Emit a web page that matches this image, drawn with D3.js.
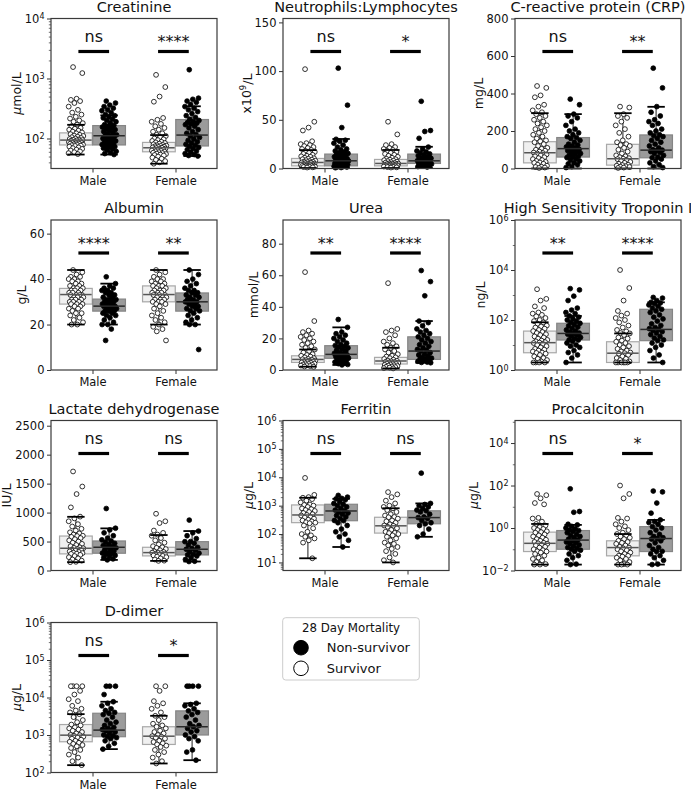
<!DOCTYPE html>
<html><head><meta charset="utf-8">
<script src="https://cdn.jsdelivr.net/npm/d3@7"></script>
<style>body{margin:0;background:#fff} text{font-family:"DejaVu Sans",sans-serif;fill:#111}</style>
</head><body><svg id="c" width="691" height="789"></svg>
<script>
// ---------------- DATA ----------------
const sexes = ["Male", "Female"];
const titles = ["Creatinine","Neutrophils:Lymphocytes","C-reactive protein (CRP)","Albumin","Urea","High Sensitivity Troponin I","Lactate dehydrogenase","Ferritin","Procalcitonin","D-dimer"];
const sigLabels = [["ns","****"],["ns","*"],["ns","**"],["****","**"],["**","****"],["**","****"],["ns","ns"],["ns","ns"],["ns","*"],["ns","*"]];
const legendTitle = "28 Day Mortality";
const legendLabels = ["Non-survivor","Survivor"];

// box stats per group [whiskerLow, q1, median, q3, whiskerHigh]; group order: Male-Surv, Male-Non, Female-Surv, Female-Non
const cr_box = [[54,78,94,124,169],[54,78,111,164,243],[38,60,70,86,114],[51,75,114,207,344]];
const nl_box = [[0.5,2.7,6.2,10.3,18.9],[0.5,2.7,7.9,14.8,30.3],[0.5,2.7,5.2,9.3,19],[0.8,5.2,7.9,14.8,22.3]];
const crp_box = [[0,30,84,143,295],[0,61,106,165,290],[0,18,52,129,295],[0,57,98,179,329]];
const alb_box = [[20,29,33.2,35.9,44],[20,25.9,28.1,31.2,38],[20,30,33.2,37,44],[20,25.9,30,33.9,44]];
const ur_box = [[2.1,4.8,6.7,9,13],[3.2,7.4,9.9,15.4,27],[1,3.8,5.7,8,14.1],[4.6,6.7,12,21,31]];
const tn_box = [[2,4.9,12.4,36,81],[2,15.8,29,74,145],[2,2,4.7,13.5,29],[2,14.9,42,268,510]];
const ld_box = [[144,287,384,595,927],[183,298,401,510,727],[166,252,309,401,612],[155,269,367,498,681]];
const fe_box = [[14,252,470,1060,1900],[35,295,650,1120,1740],[10,108,195,390,810],[80,230,380,660,1200]];
const pc_box = [[0.019,0.078,0.19,0.64,1.55],[0.019,0.1,0.27,0.76,1.4],[0.019,0.049,0.12,0.25,0.52],[0.019,0.078,0.32,1.16,2.4]];
const dd_box = [[157,660,990,1900,3600],[420,900,1350,3800,7700],[174,560,930,1660,3250],[213,1000,1660,4400,7000]];

// individual points
const cr_ms = [1550,1230,460,440,420,390,340,300,270,250,230,215,200,190,180,170,160,150,145,140,135,130,126,122,118,115,112,110,107,105,102,100,98,96,95,94,93,92,90,88,87,86,85,84,83,82,81,80,79,78,77,76,75,73,71,69,67,65,63,61,59,57,55];
const cr_mn = [420,390,360,340,320,300,290,270,250,240,230,220,210,200,190,180,170,165,160,155,150,145,140,135,130,125,120,115,112,110,108,105,100,97,94,91,88,85,83,81,79,77,75,73,71,69,67,64,61,58,56,54];
const cr_fs = [1150,720,500,410,220,205,190,175,160,150,140,130,122,115,110,105,100,97,94,91,88,86,84,82,80,78,77,76,75,74,73,72,71,70,69,68,67,66,65,64,63,62,61,60,59,58,57,56,55,54,53,52,50,48,46,44,42,40,38];
const cr_fn = [1400,470,450,420,400,370,340,320,300,280,260,240,225,210,200,190,185,180,175,170,160,150,140,130,122,116,110,104,98,93,88,84,80,77,74,71,68,65,62,59,56,54,52,51];

const nl_ms = [102,48,42,39,28,26,25,24,23,22,21,20,19,18,17,16,15,14,13,12.5,12,11,10.5,10,9.5,9,8.5,8,7.5,7,6.8,6.5,6.2,6,5.5,5,4.8,4.5,4.2,4,3.8,3.5,3.2,3,2.8,2.6,2.4,2.2,2,1.8,1.5,1.2,1];
const nl_mn = [103,65,42,30,29,28,26,24,22,20,19,18,17,16,15.5,15,14.5,14,13,12,11,10.5,10,9.5,9,8.5,8,7.8,7.5,7,6.5,6,5.5,5,4.5,4,3.5,3,2.8,2.5,2.2,2,1.8,1.5,1,0.8];
const nl_fs = [48,35,25,24,22,21,20,19,18,17,16,15,14,13,12,11,10,9.5,9,8.5,8,7.5,7,6.5,6,5.5,5.2,5,4.8,4.5,4.2,4,3.8,3.5,3.2,3,2.8,2.6,2.4,2.2,2,1.8,1.5,1.2,1];
const nl_fn = [69,39,38,31,22,20,18,17,16,15,14,13,12,11,10.5,10,9.5,9,8.5,8,7.5,7,6.5,6,5.5,5.2,5,4.5,4,3.5,3,2.5,2,1.5];

const crp_ms = [440,430,390,380,340,330,310,300,290,280,270,260,250,240,230,220,210,200,190,180,170,160,150,145,140,130,120,110,105,100,95,90,85,82,80,75,70,65,60,55,50,45,40,35,32,30,25,20,15,10,8,5,3];
const crp_mn = [370,340,290,280,270,250,230,210,200,190,180,170,165,160,150,140,130,125,120,115,110,106,102,98,95,90,85,80,75,70,65,61,58,50,45,40,30,25,20,10,5];
const crp_fs = [330,325,290,280,270,250,230,210,190,170,150,140,130,125,120,110,100,90,80,70,65,60,55,52,50,45,40,35,30,25,20,18,15,12,10,8,5,3];
const crp_fn = [535,430,330,300,280,260,250,240,230,210,200,190,180,175,170,160,150,140,130,120,110,100,98,95,90,85,80,70,60,57,50,40,30,20,10,5];

const alb_ms = [44,43,42,41,41,40,40,39,39,38,38,37,37,36,36,36,35,35,35,34,34,34,33,33,33,33,32,32,32,31,31,31,30,30,30,29,29,29,28,28,27,27,26,25,25,24,23,22,21,20,20];
const alb_mn = [41,38,37,36,36,35,35,34,34,33,33,32,32,31,31,31,30,30,30,29,29,29,28,28,28,28,27,27,27,26,26,26,25,25,24,24,23,22,21,20,20,18,13];
const alb_fs = [44,43,42,41,40,40,39,39,38,38,37,37,37,36,36,35,35,35,34,34,34,33,33,33,33,32,32,32,31,31,31,30,30,30,29,29,28,27,26,25,24,23,22,21,20,19,18,17,13];
const alb_fn = [44,42,40,39,38,37,36,35,35,34,34,33,33,32,32,31,31,30,30,30,29,29,28,28,27,27,26,26,25,24,23,22,21,20,20,9];

const ur_ms = [62,31,25,24,23,22,21,20,19,18,17,16,15,14,13,12,11,10,9.5,9,8.5,8,7.5,7,6.8,6.5,6.2,6,5.8,5.5,5.2,5,4.8,4.5,4.2,4,3.8,3.5,3.2,3,2.8,2.5,2.2,2];
const ur_mn = [32,27,24,23,22,21,20,19,18,17,16,15.5,15,14.5,14,13,12.5,12,11,10.5,10,9.8,9.5,9,8.5,8,7.8,7.5,7,6.5,6,5.5,5,4.5,4,3.5,3.2];
const ur_fs = [55,26,25,24,22,20,18,17,16,15,14,13,12,11,10,9,8.5,8,7.5,7,6.5,6,5.8,5.5,5.2,5,4.8,4.5,4.2,4,3.8,3.5,3.2,3,2.8,2.5,2.2,2,1.8,1.5,1.2,1];
const ur_fn = [63,56,47,31,30,28,26,25,24,23,22,21,20,19,18,17,16,15,14,13,12.5,12,11,10,9.5,9,8,7.5,7,6.8,6.5,6,5.5,5,4.8,4.6];

const tn_ms = [1700,700,600,350,300,200,180,160,140,120,100,90,80,70,60,55,50,45,40,36,33,30,27,25,22,20,18,16,15,14,13,12.5,12,11,10,9,8,7,6.5,6,5.5,5,4.8,4.5,4,3.5,3,2.8,2.5,2.2,2,2,2,2];
const tn_mn = [1800,1600,900,600,300,250,200,180,145,130,110,100,90,80,74,65,58,52,46,40,36,33,30,29,27,25,22,20,18,16,15.8,14,12,10,9,8,6,5,4,3,2];
const tn_fs = [10000,1900,600,230,180,150,120,100,80,60,50,40,35,30,29,25,20,18,15,13.5,12,10,9,8,7,6,5.5,5,4.7,4.5,4,3.5,3,2.8,2.5,2.2,2,2,2,2,2,2];
const tn_fn = [800,750,600,510,480,450,400,350,300,268,230,200,160,130,110,90,70,60,50,45,42,38,34,30,26,22,19,16,14.9,12,10,8,6,4,3,2];

const ld_ms = [1710,1450,1320,1090,930,900,850,800,760,720,690,660,640,620,600,595,580,560,540,520,500,480,460,440,420,400,390,384,370,360,350,340,330,320,310,300,290,287,270,250,230,210,190,170,150,144];
const ld_mn = [1070,730,700,650,600,560,530,510,490,470,450,430,410,401,390,370,350,330,310,300,290,280,260,240,220,200,183];
const ld_fs = [980,850,820,690,650,620,600,560,520,480,450,420,401,390,370,350,330,320,310,309,300,290,280,270,260,252,240,230,210,190,170,166];
const ld_fn = [870,680,650,600,550,500,498,470,440,400,380,367,350,320,300,280,269,250,220,190,160,155];

const fe_ms = [9500,2400,2000,1900,1700,1500,1300,1100,1060,1000,900,800,750,700,650,600,550,500,470,450,400,380,350,320,300,280,260,252,240,200,160,120,100,90,80,70,60,50,14];
const fe_mn = [2300,2000,1800,1740,1600,1400,1200,1120,1000,900,800,700,650,600,550,500,450,400,350,300,295,250,200,150,120,100,80,60,35];
const fe_fs = [3000,2500,2000,1500,1200,1000,900,810,700,600,500,450,400,390,350,300,280,250,220,200,195,180,160,140,120,110,108,100,90,80,70,60,50,45,40,35,30,25,20,15,12,10];
const fe_fn = [14000,1200,1100,1000,900,800,700,660,600,500,400,380,350,300,250,230,200,150,100,80];

const pc_ms = [40,35,25,15,13,3,2.8,2,1.55,1.3,1.1,1,0.9,0.8,0.7,0.64,0.6,0.5,0.45,0.4,0.35,0.3,0.28,0.25,0.22,0.2,0.19,0.18,0.16,0.15,0.13,0.12,0.1,0.09,0.08,0.078,0.07,0.06,0.05,0.04,0.035,0.03,0.025,0.02,0.019,0.019];
const pc_mn = [70,6,5.5,1.5,1.4,1.2,1,0.9,0.8,0.76,0.7,0.6,0.5,0.45,0.4,0.35,0.3,0.27,0.25,0.22,0.2,0.18,0.16,0.14,0.12,0.11,0.1,0.09,0.08,0.06,0.05,0.04,0.03,0.02,0.019];
const pc_fs = [100,40,25,3,2.8,2,1.5,1.2,1,0.8,0.6,0.52,0.45,0.4,0.35,0.3,0.25,0.22,0.2,0.18,0.15,0.13,0.12,0.11,0.1,0.09,0.08,0.07,0.06,0.05,0.049,0.045,0.04,0.035,0.03,0.025,0.02,0.019,0.019,0.019];
const pc_fn = [55,50,15,5,2.4,2,1.8,1.5,1.16,1,0.8,0.6,0.5,0.4,0.35,0.32,0.3,0.25,0.2,0.15,0.12,0.1,0.08,0.078,0.06,0.05,0.04,0.03,0.02,0.019];

const dd_ms = [20000,20000,20000,20000,15000,12000,9000,8000,6000,5000,4500,4000,3600,3000,2500,2200,1900,1800,1600,1500,1400,1300,1200,1100,1000,990,950,900,850,800,750,700,660,620,580,540,500,450,400,350,300,250,200,157];
const dd_mn = [20000,20000,20000,12000,7700,7000,6000,5000,4500,4000,3800,3500,3000,2500,2200,2000,1800,1600,1500,1400,1350,1300,1200,1100,1000,950,900,850,800,700,600,500,420];
const dd_fs = [20000,20000,15000,8000,7000,6000,5000,4000,3250,3000,2500,2000,1800,1660,1500,1300,1200,1100,1000,930,900,850,800,700,650,600,560,520,480,400,350,300,250,200,174];
const dd_fn = [20000,20000,20000,20000,7000,6500,6000,5000,4400,4000,3500,3000,2500,2000,1800,1660,1500,1300,1200,1000,900,800,700,400,350,213];

// axis ranges and ticks
const cr_dom = [31.6, 1e4],  cr_ticks = [1e2, 1e3, 1e4];
const nl_dom = [0, 154],     nl_ticks = [0, 50, 100, 150];
const crp_dom = [0, 800],    crp_ticks = [0, 200, 400, 600, 800];
const alb_dom = [0, 66],     alb_ticks = [0, 20, 40, 60];
const ur_dom = [0, 95],      ur_ticks = [0, 20, 40, 60, 80];
const tn_dom = [1, 1e6],     tn_ticks = [1, 1e2, 1e4, 1e6];
const ld_dom = [0, 2590],    ld_ticks = [0, 500, 1000, 1500, 2000, 2500];
const fe_dom = [5.2, 1e6],   fe_ticks = [1e1, 1e2, 1e3, 1e4, 1e5, 1e6];
const pc_dom = [0.01, 1.15e5], pc_ticks = [1e-2, 1, 1e2, 1e4];
const dd_dom = [1e2, 1e6],   dd_ticks = [1e2, 1e3, 1e4, 1e5, 1e6];

const units = [
  [["µ","i"],["mol/L",""]],
  [["x10",""],["9","sup"],["/L",""]],
  [["mg/L",""]], [["g/L",""]], [["mmol/L",""]], [["ng/L",""]], [["IU/L",""]],
  [["µ","i"],["g/L",""]], [["µ","i"],["g/L",""]], [["µ","i"],["g/L",""]]
];

// ---------------- BUILD ----------------
const panels = [
  {log:true, minor:"sub", dom:cr_dom, ticks:cr_ticks, box:cr_box, pts:[cr_ms,cr_mn,cr_fs,cr_fn]},
  {log:false, dom:nl_dom, ticks:nl_ticks, box:nl_box, pts:[nl_ms,nl_mn,nl_fs,nl_fn]},
  {log:false, dom:crp_dom, ticks:crp_ticks, box:crp_box, pts:[crp_ms,crp_mn,crp_fs,crp_fn]},
  {log:false, dom:alb_dom, ticks:alb_ticks, box:alb_box, pts:[alb_ms,alb_mn,alb_fs,alb_fn]},
  {log:false, dom:ur_dom, ticks:ur_ticks, box:ur_box, pts:[ur_ms,ur_mn,ur_fs,ur_fn]},
  {log:true, minor:"decade", dom:tn_dom, ticks:tn_ticks, box:tn_box, pts:[tn_ms,tn_mn,tn_fs,tn_fn]},
  {log:false, dom:ld_dom, ticks:ld_ticks, box:ld_box, pts:[ld_ms,ld_mn,ld_fs,ld_fn]},
  {log:true, minor:"sub", dom:fe_dom, ticks:fe_ticks, box:fe_box, pts:[fe_ms,fe_mn,fe_fs,fe_fn]},
  {log:true, minor:"decade", dom:pc_dom, ticks:pc_ticks, box:pc_box, pts:[pc_ms,pc_mn,pc_fs,pc_fn]},
  {log:true, minor:"sub", dom:dd_dom, ticks:dd_ticks, box:dd_box, pts:[dd_ms,dd_mn,dd_fs,dd_fn]}
];

const svg = d3.select("#c");
const colX = [51, 283, 515], rowY = [18.5, 220, 420.5, 622.5];
const W = 166, H = 150;
const TICKFS = 11.5;
const hueOff = [-0.2, 0.2];
const boxHalf = 0.197, capHalf = 0.105, jit = 0.09;
const boxFill = ["#f0f0f0", "#9b9b9b"], boxStroke = ["#a8a8a8", "#858585"], medCol = ["#555", "#2a2a2a"];
const barSpan = [[-0.17, 0.2], [-0.21, 0.16]];

function supFmt(sel, d) {
  const e = Math.round(Math.log10(d));
  sel.text(null);
  sel.append("tspan").text("10");
  sel.append("tspan").attr("dy", "-0.45em").attr("font-size", "8px").text(e < 0 ? "\u2212" + (-e) : String(e));
}

panels.forEach((p, i) => {
  const left = colX[i % 3], top = rowY[Math.floor(i / 3)];
  const x = d3.scaleLinear().domain([-0.5, 1.5]).range([left, left + W]);
  const y = (p.log ? d3.scaleLog() : d3.scaleLinear()).domain(p.dom).range([top + H, top]);
  const g = svg.append("g");

  // boxes
  [0, 1].forEach(c => [0, 1].forEach(h => {
    const b = p.box[c * 2 + h];
    const cx = c + hueOff[h];
    g.append("rect").attr("x", x(cx - boxHalf)).attr("y", y(b[3]))
      .attr("width", x(cx + boxHalf) - x(cx - boxHalf)).attr("height", Math.max(0.5, y(b[1]) - y(b[3])))
      .attr("fill", boxFill[h]).attr("stroke", boxStroke[h]).attr("stroke-width", 1.2);
    g.append("line").attr("x1", x(cx)).attr("x2", x(cx)).attr("y1", y(b[3])).attr("y2", y(b[4]))
      .attr("stroke", "#333").attr("stroke-width", 1.1);
    g.append("line").attr("x1", x(cx)).attr("x2", x(cx)).attr("y1", y(b[1])).attr("y2", y(b[0]))
      .attr("stroke", "#333").attr("stroke-width", 1.1);
  }));

  // points
  [0, 1].forEach(c => [0, 1].forEach(h => {
    const vals = p.pts[c * 2 + h];
    const cx = c + hueOff[h];
    g.selectAll(null).data(vals).enter().append("circle")
      .attr("cx", (v, k) => x(cx + (((k * 0.618034 + 0.31) % 1) - 0.5) * 2 * jit))
      .attr("cy", v => y(v)).attr("r", 2.4)
      .attr("fill", h === 0 ? "#fff" : "#000").attr("stroke", "#000").attr("stroke-width", 0.8);
  }));

  // medians and caps
  [0, 1].forEach(c => [0, 1].forEach(h => {
    const b = p.box[c * 2 + h];
    const cx = c + hueOff[h];
    g.append("line").attr("x1", x(cx - boxHalf) + 0.6).attr("x2", x(cx + boxHalf) - 0.6).attr("y1", y(b[2])).attr("y2", y(b[2]))
      .attr("stroke", medCol[h]).attr("stroke-width", 1.5);
    [b[0], b[4]].forEach(v => g.append("line").attr("x1", x(cx - capHalf)).attr("x2", x(cx + capHalf))
      .attr("y1", y(v)).attr("y2", y(v)).attr("stroke", "#000").attr("stroke-width", 1.8));
  }));

  // significance
  [0, 1].forEach(c => {
    const by = top + 33;
    const x1 = x(c + barSpan[c][0]), x2 = x(c + barSpan[c][1]);
    g.append("line").attr("x1", x1).attr("x2", x2).attr("y1", by).attr("y2", by)
      .attr("stroke", "#000").attr("stroke-width", 3.2);
    const lab = sigLabels[i][c];
    g.append("text").attr("x", (x1 + x2) / 2).attr("y", lab === "ns" ? by - 10 : by - 4.5)
      .attr("text-anchor", "middle").attr("font-size", "16px").text(lab);
  });

  // axes
  const ya = d3.axisLeft(y).tickValues(p.ticks).tickSize(4).tickPadding(2.5);
  if (!p.log) ya.tickFormat(d3.format("d"));
  const yg = svg.append("g").attr("transform", `translate(${left},0)`).call(ya);
  yg.select(".domain").remove();
  yg.selectAll(".tick line").attr("stroke", "#333").attr("stroke-width", 1);
  yg.selectAll(".tick text").attr("font-size", TICKFS + "px").attr("fill", "#111").attr("font-family", "DejaVu Sans");
  if (p.log) {
    yg.selectAll(".tick text").each(function(d) { supFmt(d3.select(this), d); });
    const lo = Math.floor(Math.log10(p.dom[0])), hi = Math.ceil(Math.log10(p.dom[1]));
    const minors = [];
    for (let e = lo; e <= hi; e++) {
      if (p.minor === "sub") { for (let k = 2; k <= 9; k++) minors.push(k * Math.pow(10, e)); }
      else if (!p.ticks.some(t => Math.abs(Math.log10(t) - e) < 1e-6)) minors.push(Math.pow(10, e));
    }
    const mv = minors.filter(v => v >= p.dom[0] && v <= p.dom[1]);
    const mg = svg.append("g").attr("transform", `translate(${left},0)`)
      .call(d3.axisLeft(y).tickValues(mv).tickSize(2.2).tickFormat(""));
    mg.select(".domain").remove();
    mg.selectAll(".tick line").attr("stroke", "#333").attr("stroke-width", 0.7);
  }
  const xa = d3.axisBottom(x).tickValues([0, 1]).tickFormat(d => sexes[d]).tickSize(4).tickPadding(4);
  const xg = svg.append("g").attr("transform", `translate(0,${top + H})`).call(xa);
  xg.select(".domain").remove();
  xg.selectAll(".tick line").attr("stroke", "#333");
  xg.selectAll(".tick text").attr("font-size", TICKFS + "px").attr("fill", "#111").attr("font-family", "DejaVu Sans");

  // frame
  svg.append("rect").attr("x", left).attr("y", top).attr("width", W).attr("height", H)
    .attr("fill", "none").attr("stroke", "#3a3a3a").attr("stroke-width", 1.2);

  // title
  svg.append("text").attr("x", left + W / 2).attr("y", top - 7).attr("text-anchor", "middle")
    .attr("font-size", "14.5px").text(titles[i]);

  // y label
  const bb = yg.node().getBBox();
  const lx = Math.max(11, left + bb.x - 4), ly = top + H / 2;
  const t = svg.append("text").attr("transform", `translate(${lx},${ly}) rotate(-90)`)
    .attr("text-anchor", "middle").attr("font-size", "12.5px");
  units[i].forEach(([s, kind]) => {
    const ts = t.append("tspan").text(s);
    if (kind === "i") ts.attr("font-style", "italic");
    if (kind === "sup") ts.attr("font-size", "8.5px").attr("dy", "-0.5em");
    else if (s === "/L" && units[i].some(u => u[1] === "sup")) ts.attr("dy", "0.42em");
  });
});

// legend
const lg = svg.append("g");
lg.append("rect").attr("x", 282.7).attr("y", 617.7).attr("width", 136.6).attr("height", 62.3).attr("rx", 3)
  .attr("fill", "#fff").attr("stroke", "#cccccc").attr("stroke-width", 1);
lg.append("text").attr("x", 351).attr("y", 632.3).attr("text-anchor", "middle").attr("font-size", "11.8px").text(legendTitle);
[["#000", legendLabels[0], 647.7], ["#fff", legendLabels[1], 668.3]].forEach(([f, l, cy]) => {
  lg.append("circle").attr("cx", 301).attr("cy", cy).attr("r", 7.3).attr("fill", f).attr("stroke", "#000").attr("stroke-width", 1);
  lg.append("text").attr("x", 326.7).attr("y", cy + 4.7).attr("font-size", "13px").text(l);
});
</script></body></html>
